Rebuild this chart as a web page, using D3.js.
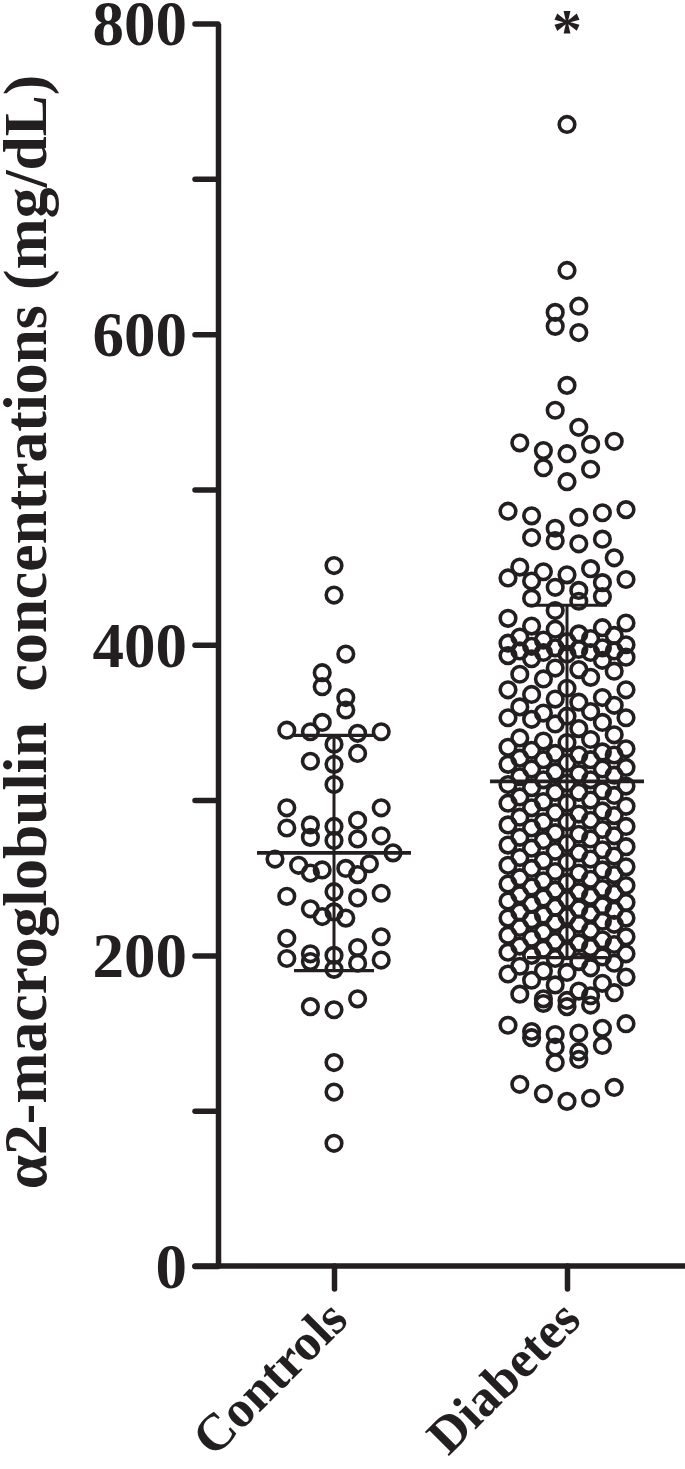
<!DOCTYPE html>
<html>
<head>
<meta charset="utf-8">
<script src="https://cdn.jsdelivr.net/npm/d3@7"></script>
<style>
  body { margin: 0; background: #fff; }
  svg text { font-family: "Liberation Serif", "Times New Roman", serif; font-weight: bold; fill: #231f20; }
</style>
</head>
<body>
<div id="chart"></div>
<script>
// groups on the x axis
var categories = ["Controls", "Diabetes"];

// alpha2-macroglobulin, mg/dL, one value per subject
var controls = [
  451, 432, 394, 382, 373, 366, 358, 350, 344, 344, 343, 345, 336, 330, 325, 323,
  310, 295, 295, 287, 284, 282, 283, 276, 277, 274, 275, 266, 262, 259, 256, 252,
  253, 255, 258, 240, 237, 238, 241, 225, 228, 230, 224, 212, 211, 205, 201, 198,
  195, 196, 197, 200, 191, 172, 167, 165, 131, 112, 79
];

var diabetes = [
  735, 641, 618, 614, 605, 601, 567,
  551, 540, 531, 530, 529, 525, 523, 513, 514, 505,
  487, 486, 485, 482, 483, 475, 469, 468, 467, 465,
  456, 450, 449, 447, 445, 442, 441, 443, 440, 437, 435, 431,
  430, 428, 422,
  407, 398, 395, 392, 414, 405, 399, 394, 385, 417, 411, 403, 400, 393, 384, 381,
  410, 402, 397, 396, 383, 379, 412, 404, 398, 395, 391, 406, 401, 396, 390,
  378, 372, 371, 371, 368, 366, 365, 363, 361, 360, 357, 356, 354, 353, 352, 353,
  350, 349, 346, 342, 340, 339, 338, 337, 334, 333, 332, 331, 330, 329,
  329, 327, 326, 326, 324, 323, 321, 320, 320, 318,
  317, 316, 315, 313, 313, 311, 310, 309, 308, 306,
  305, 305, 303, 302, 300, 299, 298, 298, 296, 295,
  293, 292, 291, 290, 289, 287, 286, 286, 284, 283,
  282, 281, 279, 278, 277, 276, 275, 274, 272, 271,
  270, 269, 268, 267, 266, 264, 263, 262, 261, 260,
  258, 257, 256, 255, 254, 253, 252, 250, 249, 248,
  247, 246, 245, 244, 243, 242, 241, 240, 239, 238,
  237, 236, 235, 234, 233, 232, 231, 230, 229, 228,
  227, 226, 225, 224, 224, 223, 222, 221, 220, 220,
  218, 216, 215, 214, 213, 212, 211, 210, 209, 208, 207, 206, 205, 204, 203, 202, 201, 200,
  199, 198, 196, 195, 193, 192, 189, 190, 188, 186, 184, 182, 181, 176, 177, 175,
  174, 172, 171, 169, 167, 168,
  155, 156, 153, 151, 150, 149, 147, 142, 141, 138, 133, 131, 117, 115, 111, 108, 106
];

var groupValues = [controls, diabetes];
var significance = ["", "*"];

// y axis
var yTicks = [0, 100, 200, 300, 400, 500, 600, 700, 800];
var yTickLabels = [0, 200, 400, 600, 800];
var yTitle = "\u03b12-macroglobulin  concentrations (mg/dL)";

var width = 685, height = 1469;
var ink = "#231f20";

var svg = d3.select("#chart").append("svg")
    .attr("width", width)
    .attr("height", height);

var yScale = d3.scaleLinear().domain([0, 800]).range([1266, 23.5]);
var xScale = d3.scalePoint().domain(categories).range([334, 567]);
var axisX = 218, tickLen = 23;

// Prism style scatter: sorted points are cut into rows (~20px tall, max 6,
// a full row of 6 is followed by a row of at most 5 so rows interleave),
// every row is centred on the column, outer slots filled first
function swarmOffsets(values, rowPx, maxPerRow, spacing) {
  var out = new Array(values.length);
  var order = d3.range(values.length).sort((a, b) => values[b] - values[a]);
  var rows = [], k = 0, prevLen = 0;
  while (k < order.length) {
    var row = [order[k]];
    var top = yScale(values[order[k]]);
    var cap = prevLen === maxPerRow ? maxPerRow - 1 : maxPerRow;
    k++;
    while (k < order.length && row.length < cap &&
           yScale(values[order[k]]) - top < rowPx) {
      row.push(order[k]);
      k++;
    }
    rows.push(row);
    prevLen = row.length;
  }
  rows.forEach((row, ri) => {
    var n = row.length;
    var sign = ri % 2 ? -1 : 1;
    var slots = d3.range(n).map(j => (j - (n - 1) / 2) * spacing);
    slots.sort((a, b) => Math.abs(b) - Math.abs(a) || sign * (b - a));
    row.forEach((idx, j) => { out[idx] = slots[j]; });
  });
  return out;
}

// points
categories.forEach((cat, gi) => {
  var vals = groupValues[gi];
  var offs = swarmOffsets(vals, 20, 6, 23.6);
  svg.append("g").selectAll("circle")
    .data(vals)
    .enter()
    .append("circle")
    .attr("cx", (d, i) => xScale(cat) + offs[i])
    .attr("cy", d => yScale(d))
    .attr("r", 7.8)
    .attr("fill", "none")
    .attr("stroke", ink)
    .attr("stroke-width", 3.6);
});

// mean +/- SD
categories.forEach((cat, gi) => {
  var vals = groupValues[gi];
  var m = d3.mean(vals), sd = d3.deviation(vals);
  var cx = xScale(cat);
  var g = svg.append("g").attr("stroke", ink).attr("fill", "none");
  g.append("line")
    .attr("x1", cx).attr("x2", cx)
    .attr("y1", yScale(m - sd)).attr("y2", yScale(m + sd))
    .attr("stroke-width", 3);
  [m - sd, m + sd].forEach(v => {
    g.append("line")
      .attr("x1", cx - 40).attr("x2", cx + 40)
      .attr("y1", yScale(v)).attr("y2", yScale(v))
      .attr("stroke-width", 3.2);
  });
  g.append("line")
    .attr("x1", cx - 77).attr("x2", cx + 77)
    .attr("y1", yScale(m)).attr("y2", yScale(m))
    .attr("stroke-width", 3.8);
  // significance mark
  svg.append("text")
    .attr("x", cx)
    .attr("y", 50)
    .attr("text-anchor", "middle")
    .style("font-size", "60px")
    .text(significance[gi]);
});

// y axis
var yAxis = d3.axisLeft(yScale)
  .tickValues(yTicks)
  .tickSize(tickLen)
  .tickSizeOuter(0)
  .tickPadding(8)
  .tickFormat(d => yTickLabels.includes(d) ? d : "");

var yg = svg.append("g")
  .attr("transform", "translate(" + axisX + ",0)")
  .call(yAxis);
yg.select(".domain").attr("stroke", ink).attr("stroke-width", 5.5);
yg.selectAll(".tick line").attr("stroke", ink).attr("stroke-width", 5.5).attr("stroke-linecap", "round");
yg.selectAll(".tick text")
  .attr("fill", ink)
  .attr("dy", "0.34em")
  .style("font-size", "63px")
  .style("font-family", "'Liberation Serif', 'Times New Roman', serif")
  .style("font-weight", "bold");

// x axis
svg.append("line")
  .attr("x1", axisX - tickLen).attr("x2", width)
  .attr("y1", yScale(0)).attr("y2", yScale(0))
  .attr("stroke", ink).attr("stroke-width", 5.5).attr("stroke-linecap", "round");

var xAxis = d3.axisBottom(xScale).tickSize(tickLen).tickSizeOuter(0).tickFormat("");
var xg = svg.append("g")
  .attr("transform", "translate(0," + yScale(0) + ")")
  .call(xAxis);
xg.select(".domain").remove();
xg.selectAll(".tick line").attr("stroke", ink).attr("stroke-width", 5.5).attr("stroke-linecap", "round");

svg.append("g").selectAll("text")
  .data(categories)
  .enter()
  .append("text")
  .attr("transform", d => "translate(" + (xScale(d) + 16) + "," + (yScale(0) + 56) + ") rotate(-45)")
  .attr("text-anchor", "end")
  .style("font-size", "52px")
  .text(d => d);

// y title
svg.append("text")
  .attr("transform", "translate(46,632) rotate(-90)")
  .attr("text-anchor", "middle")
  .style("font-size", "61.5px")
  .style("white-space", "pre")
  .text(yTitle);
</script>
</body>
</html>
